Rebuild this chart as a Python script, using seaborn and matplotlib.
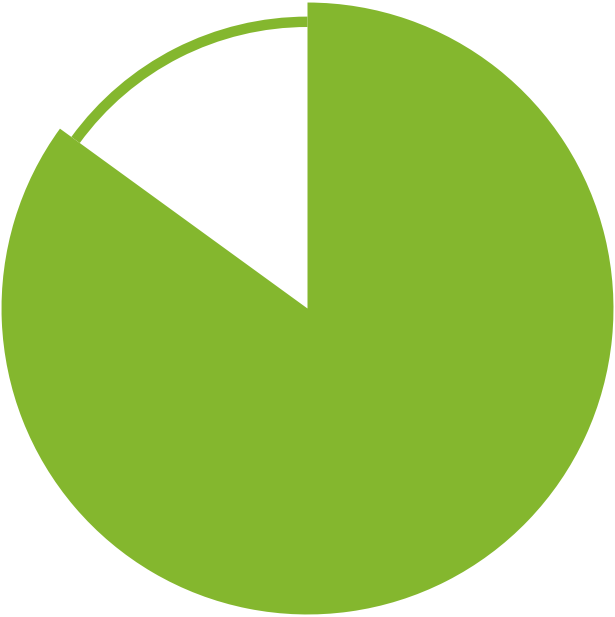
import matplotlib
matplotlib.use("Agg")
import matplotlib.pyplot as plt
import seaborn as sns

sns.set_theme(style="white")

# 两个扇区：主扇区与剩余部分（剩余部分只画外圈细环）
labels = ["完成", "剩余"]
values = [85, 15]
green = "#84B72E"

fig = plt.figure(figsize=(6.15, 6.17), dpi=100)
ax = fig.add_axes([0, 0, 1, 1])

# 主扇区
ax.pie(values, colors=[green, "none"], startangle=90, counterclock=False,
       radius=1.0, wedgeprops=dict(linewidth=0))
# 剩余部分的细环
ax.pie(values, colors=["none", green], startangle=90, counterclock=False,
       radius=0.954, wedgeprops=dict(width=0.034, linewidth=0))

ax.set_aspect("equal")
ax.set_xlim(-1.005, 1.005)
ax.set_ylim(-1.005 * 617 / 615, 1.005 * 617 / 615)
ax.axis("off")

fig.savefig("out.png", dpi=100, facecolor="white")
